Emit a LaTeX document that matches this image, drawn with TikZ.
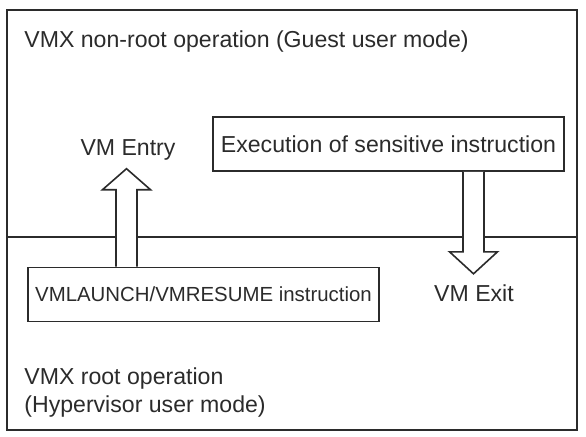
\documentclass[tikz,border=0pt]{standalone}
\usepackage{fontspec}
\setmainfont{Liberation Sans}
\usepackage{xcolor}
\usepackage{tikz}
\usetikzlibrary{positioning, calc}
\definecolor{ink}{HTML}{2B2B2B}

\begin{document}
\begin{tikzpicture}[
  x=0.5pt, y=0.5pt,
  every node/.style={text=ink},
  frame/.style={draw=ink, line width=0.8pt},
  box/.style={frame, inner sep=0pt, minimum width=175.5pt, minimum height=27pt, fill=white},
  lbl/.style={inner sep=0pt, font=\fontsize{11.55}{14.2}\selectfont, align=left},
  blk/.style={frame, fill=white, line join=miter}
]
\useasboundingbox (0,0) rectangle (586,436);
\draw[frame] (7,6) rectangle (577,426);
\draw[frame] (7,199.3) -- (577,199.3);

\node[lbl, anchor=base west] (guest) at (24,389) {VMX non-root operation (Guest user mode)};
\node[lbl, anchor=base west] (host) at (24,23.3) {VMX root operation\\(Hypervisor user mode)};

\node[box, font=\fontsize{11.55}{14}\selectfont] (exec) at (388.5,292) {Execution of sensitive instruction};
\node[box, font=\fontsize{10.2}{12}\selectfont] (launch) at (203.5,141.5) {VMLAUNCH/VMRESUME instruction};

\node[lbl, anchor=base] (entry) at (128,281) {VM Entry};
\node[lbl, anchor=base] (exit) at (474,134.3) {VM Exit};

\coordinate (entryfoot) at (launch.north -| 126.5,0);
\coordinate (exittop) at (exec.south -| 473.5,0);
\draw[blk] (entryfoot) ++(-10.5,0) -- ++(0,77) -- ++(-13.5,0) -- ++(24,21)
  -- ++(24,-21) -- ++(-13.5,0) -- ++(0,-77);
\draw[blk] (exittop) ++(-10.5,0) -- ++(0,-80) -- ++(-13.5,0) -- ++(24,-22)
  -- ++(24,22) -- ++(-13.5,0) -- ++(0,80);
\end{tikzpicture}
\end{document}
